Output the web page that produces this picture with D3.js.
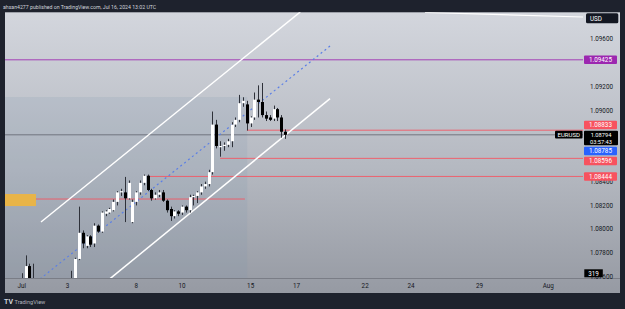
<!DOCTYPE html>
<html>
<head>
<meta charset="utf-8">
<script src="https://cdn.jsdelivr.net/npm/d3@7"></script>
<style>
body { margin: 0; background: #1e222d; }
svg { display: block; font-family: Roboto, "Noto Sans", sans-serif; }
</style>
</head>
<body>
<svg id="chart"></svg>
<script>
const W = 625, H = 309;

// EURUSD 4H bars, index 0 = Jun 30 21:00 UTC (first bar of the Jul 1 session)
const opens  = [1.0722,1.0745,1.0751,1.0769,1.0754,1.0748,1.0741,1.0733,1.0726,1.0718,1.0725,1.0738,1.0744,1.0741,1.0750,1.0755,
                1.0775,1.0797,1.0786,1.0794,1.0788,1.0803,1.0798,1.0813,1.0814,1.0816,1.0823,1.0831,1.0831,1.0826,1.0806,1.0823,
                1.0831,1.0839,1.0845,1.0833,1.0826,1.0829,1.0831,1.0824,1.0817,1.0811,1.0815,1.0814,1.0819,1.0816,1.0827,1.0828,
                1.0831,1.0836,1.0838,1.0848,1.0888,1.0869,1.0870,1.0871,1.0874,1.0888,1.0892,1.0906,1.0905,1.0889,1.0894,1.0909,
                1.0907,1.0896,1.0894,1.0893,1.0901,1.0894,1.0882];
const highs  = [1.0752,1.0763,1.0778,1.0771,1.0771,1.0753,1.0746,1.0740,1.0733,1.0729,1.0741,1.0750,1.0752,1.0754,1.0765,1.0776,
                1.0819,1.0799,1.0795,1.0795,1.0805,1.0804,1.0815,1.0816,1.0818,1.0825,1.0832,1.0834,1.0844,1.0841,1.0825,1.0832,
                1.0841,1.0846,1.0846,1.0834,1.0831,1.0833,1.0833,1.0825,1.0819,1.0816,1.0816,1.0820,1.0820,1.0829,1.0829,1.0832,
                1.0838,1.0840,1.0850,1.0899,1.0892,1.0874,1.0873,1.0876,1.0890,1.0894,1.0913,1.0911,1.0908,1.0895,1.0915,1.0921,
                1.0923,1.0899,1.0896,1.0904,1.0902,1.0896,1.0884];
const lows   = [1.0718,1.0740,1.0749,1.0750,1.0745,1.0738,1.0730,1.0722,1.0711,1.0713,1.0722,1.0733,1.0738,1.0737,1.0746,1.0752,
                1.0774,1.0784,1.0784,1.0785,1.0785,1.0797,1.0797,1.0811,1.0813,1.0815,1.0820,1.0828,1.0806,1.0825,1.0805,1.0820,
                1.0829,1.0837,1.0832,1.0824,1.0825,1.0827,1.0823,1.0814,1.0807,1.0809,1.0811,1.0812,1.0814,1.0814,1.0820,1.0822,
                1.0829,1.0834,1.0836,1.0846,1.0868,1.0861,1.0866,1.0869,1.0869,1.0886,1.0890,1.0903,1.0883,1.0886,1.0892,1.0894,
                1.0894,1.0891,1.0891,1.0891,1.0891,1.0877,1.0876];
const closes = [1.0745,1.0751,1.0769,1.0754,1.0748,1.0741,1.0733,1.0726,1.0718,1.0725,1.0738,1.0744,1.0741,1.0750,1.0755,1.0775,
                1.0797,1.0788,1.0794,1.0787,1.0803,1.0798,1.0814,1.0815,1.0817,1.0823,1.0831,1.0832,1.0826,1.0839,1.0823,1.0831,
                1.0839,1.0845,1.0833,1.0826,1.0829,1.0831,1.0824,1.0816,1.0811,1.0815,1.0813,1.0819,1.0816,1.0827,1.0828,1.0831,
                1.0836,1.0838,1.0848,1.0888,1.0870,1.0870,1.0871,1.0874,1.0888,1.0892,1.0906,1.0908,1.0889,1.0894,1.0909,1.0907,
                1.0896,1.0893,1.0892,1.0901,1.0894,1.0882,1.08794];

// time axis: bar index of each day label
const tickBars   = [1, 13, 31, 43, 61, 73, 91, 103, 121, 139];
const tickLabels = ["Jul", "3", "8", "10", "15", "17", "22", "24", "29", "Aug"];
const priceTicks = [1.076, 1.078, 1.080, 1.082, 1.084, 1.090, 1.092, 1.096];

// drawings (bar, price anchors)
const rayPrices = [1.09425, 1.08833, 1.08596, 1.08444];
const rayStartBars = [-5, 60, 53, 34];
const rayNames = ["purple", "red", "red", "red"];
const segLevel = [[4.74, 1.08254], [59.5, 1.08254]];
const channelUpper = [[6.06, 1.08061], [74, 1.09827]];
const channelLower = [[24, 1.0758], [81.8, 1.09099]];
const channelMid   = [[5.8, 1.07581], [81.8, 1.09541]];
const topLine      = [[106.7, 1.09823], [148.1, 1.09785]];
const zoneBox  = {bars: [-5, 4.74], prices: [1.08296, 1.08195]};
const shadeBox = {bars: [-5, 60.1], top: 1.09112};

// price axis labels
const axisLabels = [
  {price: 1.09425, kind: "purple"},
  {price: 1.08833, kind: "red"},
  {price: 1.08785, kind: "blue"},
  {price: 1.08596, kind: "red"},
  {price: 1.08444, kind: "red"}
];
const symbol = "EURUSD";
const countdown = "03:57:43";
const volumeLabel = "319";

const colors = {purple: "#9c27b0", red: "#f7525f", blue: "#2962ff"};

const svg = d3.select("#chart").attr("width", W).attr("height", H);

const x = d3.scaleLinear().domain([1, 139]).range([21.7, 548.3]);
const y = d3.scaleLinear().domain([1.078, 1.096]).range([253, 39]);

const plot = {left: 5, right: 583, top: 12.3, bottom: 278.5};

const defs = svg.append("defs");
const grad = defs.append("linearGradient").attr("id", "bg")
    .attr("x1", 0).attr("y1", 0).attr("x2", 0).attr("y2", 1);
grad.append("stop").attr("offset", "0%").attr("stop-color", "#d3d6dd");
grad.append("stop").attr("offset", "55%").attr("stop-color", "#b5b9c1");
grad.append("stop").attr("offset", "100%").attr("stop-color", "#969aa3");
defs.append("clipPath").attr("id", "clip").append("rect")
    .attr("x", plot.left).attr("y", plot.top)
    .attr("width", plot.right - plot.left).attr("height", plot.bottom - plot.top);

// frame
svg.append("rect").attr("width", W).attr("height", H).attr("fill", "#1e222d");
svg.append("rect").attr("x", 5).attr("y", plot.top).attr("width", 615).attr("height", 293 - plot.top)
    .attr("fill", "url(#bg)");

svg.append("text").attr("x", 3).attr("y", 8.6)
    .attr("fill", "#d1d4dc").attr("font-size", 5.2)
    .text("ahsan4277 published on TradingView.com, Jul 16, 2024 13:02 UTC");

const g = svg.append("g").attr("clip-path", "url(#clip)");

// shaded range
g.append("rect")
    .attr("x", x(shadeBox.bars[0])).attr("y", y(shadeBox.top))
    .attr("width", x(shadeBox.bars[1]) - x(shadeBox.bars[0]))
    .attr("height", plot.bottom - y(shadeBox.top))
    .attr("fill", "#7d93ae").attr("fill-opacity", 0.16);

// zone
g.append("rect")
    .attr("x", x(zoneBox.bars[0])).attr("y", y(zoneBox.prices[0]))
    .attr("width", x(zoneBox.bars[1]) - x(zoneBox.bars[0]))
    .attr("height", y(zoneBox.prices[1]) - y(zoneBox.prices[0]))
    .attr("fill", "#f0b53c").attr("fill-opacity", 0.9);

// horizontal rays
g.selectAll(".ray").data(rayPrices).join("line")
    .attr("class", "ray")
    .attr("x1", (d, i) => x(rayStartBars[i])).attr("x2", plot.right)
    .attr("y1", d => y(d)).attr("y2", d => y(d))
    .attr("stroke", (d, i) => colors[rayNames[i]]).attr("stroke-width", 1)
    .attr("stroke-opacity", 0.85);

const seg = d3.line().x(d => x(d[0])).y(d => y(d[1]));
g.append("path").attr("d", seg(segLevel)).attr("stroke", colors.red)
    .attr("stroke-opacity", 0.85).attr("fill", "none");

// current price line
const last = closes[closes.length - 1];
g.append("line").attr("x1", plot.left).attr("x2", plot.right)
    .attr("y1", y(last)).attr("y2", y(last))
    .attr("stroke", "#5f626c").attr("stroke-width", 0.8);

// channel
g.append("path").attr("d", seg(channelUpper)).attr("stroke", "#ffffff").attr("stroke-width", 1.5).attr("fill", "none");
g.append("path").attr("d", seg(channelLower)).attr("stroke", "#ffffff").attr("stroke-width", 1.5).attr("fill", "none");
g.append("path").attr("d", seg(channelMid)).attr("stroke", "#5b7fe6").attr("stroke-width", 1.2)
    .attr("stroke-dasharray", "2,3").attr("fill", "none");
g.append("path").attr("d", seg(topLine)).attr("stroke", "#ffffff").attr("stroke-width", 1.2).attr("fill", "none");

// candles
const bars = d3.range(opens.length);
const candle = g.append("g").selectAll("g").data(bars).join("g");
candle.append("line")
    .attr("x1", i => Math.round(x(i)) + 0.5).attr("x2", i => Math.round(x(i)) + 0.5)
    .attr("y1", i => y(highs[i])).attr("y2", i => y(lows[i]))
    .attr("stroke", "#2e3139").attr("stroke-width", 1);
candle.append("rect")
    .attr("x", i => Math.round(x(i)) - 1)
    .attr("width", 3)
    .attr("y", i => y(Math.max(opens[i], closes[i])))
    .attr("height", i => Math.max(1, Math.abs(y(opens[i]) - y(closes[i]))))
    .attr("fill", i => closes[i] >= opens[i] ? "#ffffff" : "#000000");

// time axis
svg.append("line").attr("x1", 5).attr("x2", 620).attr("y1", plot.bottom).attr("y2", plot.bottom)
    .attr("stroke", "#7a7d86").attr("stroke-width", 1);
svg.append("g").selectAll("text").data(tickBars).join("text")
    .attr("x", d => x(d)).attr("y", 287.5)
    .attr("text-anchor", "middle").attr("font-size", 6.3).attr("fill", "#131722")
    .text((d, i) => tickLabels[i]);

// price axis ticks
svg.append("g").selectAll("text").data(priceTicks).join("text")
    .attr("x", 613).attr("y", d => y(d) + 2.2)
    .attr("text-anchor", "end").attr("font-size", 6.3).attr("fill", "#131722")
    .text(d => d3.format(".5f")(d));

// price axis labels with overlap push around the current price box
const curTop = y(last) - 4.1, curH = 14.6, boxH = 8.5, gap = 1.5;
const above = axisLabels.filter(d => d.price > last).sort((a, b) => a.price - b.price);
const below = axisLabels.filter(d => d.price <= last).sort((a, b) => b.price - a.price);
let limit = curTop - gap;
above.forEach(d => { d.cy = Math.min(y(d.price), limit - boxH / 2); limit = d.cy - boxH / 2 - gap; });
limit = curTop + curH + gap;
below.forEach(d => { d.cy = Math.max(y(d.price), limit + boxH / 2); limit = d.cy + boxH / 2 + gap; });

const lab = svg.append("g").selectAll("g").data(axisLabels).join("g");
lab.append("rect").attr("x", 584).attr("y", d => d.cy - boxH / 2)
    .attr("width", 33).attr("height", boxH).attr("rx", 1)
    .attr("fill", d => colors[d.kind]);
lab.append("text").attr("x", 600.5).attr("y", d => d.cy + 2.2)
    .attr("text-anchor", "middle").attr("font-size", 6.3).attr("fill", "#ffffff")
    .text(d => d3.format(".5f")(d.price));

svg.append("rect").attr("x", 584).attr("y", curTop).attr("width", 34).attr("height", curH)
    .attr("rx", 1).attr("fill", "#000000");
svg.append("text").attr("x", 601).attr("y", curTop + 6.0).attr("text-anchor", "middle")
    .attr("font-size", 5.7).attr("fill", "#ffffff").text(d3.format(".5f")(last));
svg.append("text").attr("x", 601).attr("y", curTop + 12.9).attr("text-anchor", "middle")
    .attr("font-size", 5.7).attr("fill", "#ffffff").text(countdown);
svg.append("rect").attr("x", 555).attr("y", curTop).attr("width", 27.5).attr("height", 7.8)
    .attr("rx", 1).attr("fill", "#000000");
svg.append("text").attr("x", 568.7).attr("y", curTop + 6.0).attr("text-anchor", "middle")
    .attr("font-size", 6).attr("fill", "#ffffff").text(symbol);

// volume badge and currency
svg.append("rect").attr("x", 584.3).attr("y", 269.3).attr("width", 18.5).attr("height", 8)
    .attr("fill", "#000000");
svg.append("text").attr("x", 593.5).attr("y", 275.6).attr("text-anchor", "middle")
    .attr("font-size", 6.3).attr("fill", "#ffffff").text(volumeLabel);
svg.append("rect").attr("x", 586).attr("y", 13.3).attr("width", 32.3).attr("height", 10)
    .attr("rx", 1.5).attr("fill", "#131722");
svg.append("text").attr("x", 590).attr("y", 20.6)
    .attr("font-size", 6.3).attr("fill", "#ffffff").text("USD");

// footer logo
svg.append("text").attr("x", 4).attr("y", 304)
    .attr("font-size", 7).attr("font-weight", "bold").attr("fill", "#d1d4dc").text("TV");
svg.append("text").attr("x", 14.5).attr("y", 303.6)
    .attr("font-size", 5.6).attr("fill", "#b2b5be").text("TradingView");
</script>
</body>
</html>
